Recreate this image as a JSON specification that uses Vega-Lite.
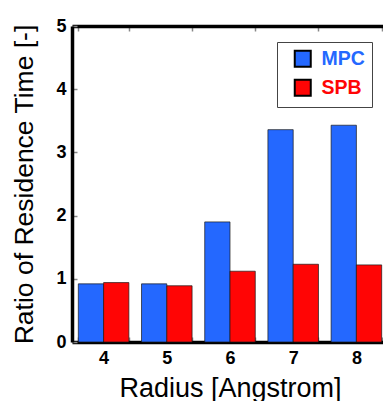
{
  "$schema": "https://vega.github.io/schema/vega-lite/v6.json",
  "width": 316,
  "height": 316,
  "autosize": "none",
  "padding": {"left": 72, "top": 26, "right": 0, "bottom": 59},
  "background": "white",
  "config": {"view": {"stroke": null}, "font": "Liberation Sans"},
  "data": {"values": [
    {"radius": "4", "series": "MPC", "ratio": 0.92},
    {"radius": "4", "series": "SPB", "ratio": 0.94},
    {"radius": "5", "series": "MPC", "ratio": 0.92},
    {"radius": "5", "series": "SPB", "ratio": 0.89},
    {"radius": "6", "series": "MPC", "ratio": 1.9},
    {"radius": "6", "series": "SPB", "ratio": 1.12},
    {"radius": "7", "series": "MPC", "ratio": 3.36},
    {"radius": "7", "series": "SPB", "ratio": 1.23},
    {"radius": "8", "series": "MPC", "ratio": 3.43},
    {"radius": "8", "series": "SPB", "ratio": 1.22}
  ]},
  "layer": [
    {
      "mark": {"type": "bar", "stroke": "#1a1a1a", "strokeWidth": 1, "strokeOpacity": 0.7},
      "encoding": {
        "x": {"field": "radius", "type": "ordinal",
          "scale": {"paddingInner": 0.2, "paddingOuter": 0.1},
          "axis": {"orient": "bottom", "title": "Radius [Angstrom]", "labelAngle": 0,
            "labelFontSize": 18, "labelFontWeight": "bold", "labelColor": "black", "labelPadding": 12,
            "tickBand": "extent", "tickSize": -5, "tickColor": "#888", "tickWidth": 1.5,
            "domainColor": "black", "domainWidth": 3.5,
            "titleFontSize": 27, "titleFontWeight": "normal", "titleColor": "black", "titlePadding": 8}},
        "xOffset": {"field": "series", "type": "nominal", "scale": {"domain": ["MPC", "SPB"], "paddingInner": 0, "paddingOuter": 0}},
        "y": {"field": "ratio", "type": "quantitative",
          "scale": {"domain": [0, 5], "nice": false},
          "axis": {"orient": "left", "title": "Ratio of Residence Time [-]", "values": [0, 1, 2, 3, 4, 5],
            "labelFontSize": 18, "labelFontWeight": "bold", "labelColor": "black", "labelPadding": 11,
            "tickSize": -5, "tickColor": "#888", "tickWidth": 1.5, "grid": false,
            "domainColor": "black", "domainWidth": 3.5,
            "titleFontSize": 26.5, "titleFontWeight": "normal", "titleColor": "black", "titlePadding": 17}},
        "color": {"field": "series", "type": "nominal",
          "scale": {"domain": ["MPC", "SPB"], "range": ["#2468ff", "#ff0505"]},
          "legend": {"orient": "none", "legendX": 205, "legendY": 16, "title": null,
            "strokeColor": "#444", "fillColor": "white", "padding": 7,
            "symbolType": "square", "symbolSize": 256, "symbolStrokeColor": "black", "symbolStrokeWidth": 2,
            "symbolOffset": 9,
            "labelFontSize": 19.5, "labelFontWeight": "bold",
            "labelColor": {"expr": "datum.value == 'MPC' ? '#2468ff' : '#ff0505'"},
            "rowPadding": 4, "labelOffset": 9}}
      }
    },
    {
      "mark": {"type": "bar", "opacity": 0},
      "encoding": {
        "x": {"field": "radius", "type": "ordinal",
          "axis": {"orient": "top", "title": null, "labels": false,
            "tickBand": "extent", "tickSize": -5, "tickColor": "#888", "tickWidth": 1.5,
            "domainColor": "black", "domainWidth": 3.5}},
        "xOffset": {"field": "series", "type": "nominal"},
        "y": {"field": "ratio", "type": "quantitative",
          "axis": {"orient": "right", "title": null, "labels": false, "values": [0, 1, 2, 3, 4, 5],
            "tickSize": -5, "tickColor": "#888", "tickWidth": 1.5, "grid": false,
            "domainColor": "black", "domainWidth": 3.5}}
      }
    }
  ],
  "resolve": {"axis": {"x": "independent", "y": "independent"}}
}
